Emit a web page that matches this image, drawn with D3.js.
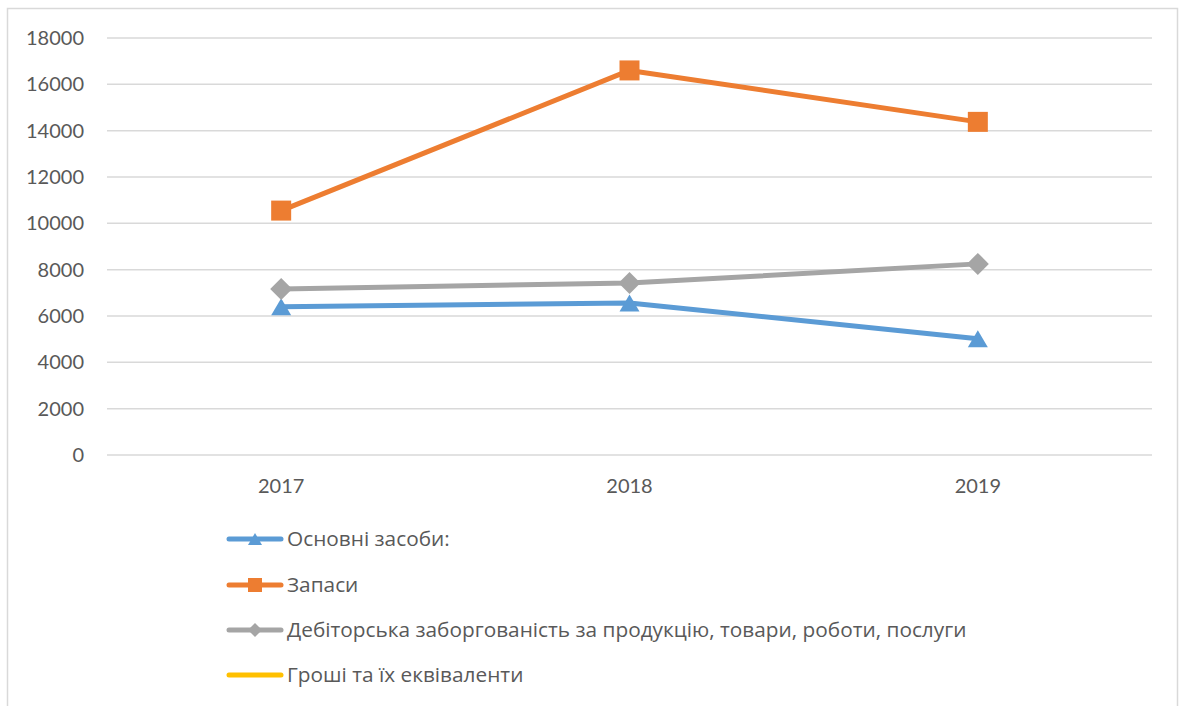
<!DOCTYPE html>
<html>
<head>
<meta charset="utf-8">
<script src="https://cdn.jsdelivr.net/npm/d3@7"></script>
<style>
  body { margin: 0; background: #fff; }
  text { font-family: Lato, "Open Sans", sans-serif; fill: #595959; }
  .legend text { font-family: "Open Sans", sans-serif; }
</style>
</head>
<body>
<svg id="chart" width="1185" height="706"></svg>
<script>
// data
const years = ["2017", "2018", "2019"]
const fixedAssets = [6400, 6560, 5020]
const stocks = [10550, 16600, 14380]
const receivables = [7170, 7420, 8250]
const cash = [null, null, null]
const yTicks = [0, 2000, 4000, 6000, 8000, 10000, 12000, 14000, 16000, 18000]

const seriesNames = [
    "Основні засоби:",
    "Запаси",
    "Дебіторська заборгованість за продукцію, товари, роботи, послуги",
    "Гроші та їх еквіваленти"
]
const seriesColors = ["#5B9BD5", "#ED7D31", "#A5A5A5", "#FFC000"]
const seriesMarkers = ["triangle", "square", "diamond", null]
const seriesValues = [fixedAssets, stocks, receivables, cash]

const svg = d3.select("#chart")

// outer border of the chart
svg.append("rect")
    .attr("x", 7.5).attr("y", 8.5)
    .attr("width", 1170).attr("height", 720)
    .attr("fill", "none")
    .attr("stroke", "#D9D9D9")
    .attr("stroke-width", 1.5)

const x = d3.scaleBand().domain(years).range([107, 1152])
const y = d3.scaleLinear().domain([0, 18000]).range([455, 38])

// grid
svg.append("g")
    .selectAll("line")
    .data(yTicks)
    .join("line")
    .attr("x1", 107).attr("x2", 1152)
    .attr("y1", d => y(d)).attr("y2", d => y(d))
    .attr("stroke", "#D9D9D9")
    .attr("stroke-width", 1.5)

// y labels
svg.append("g")
    .selectAll("text")
    .data(yTicks)
    .join("text")
    .attr("x", 84)
    .attr("y", d => y(d))
    .attr("dy", "0.35em")
    .attr("text-anchor", "end")
    .attr("font-size", 20)
    .text(d => d)

// x labels
svg.append("g")
    .selectAll("text")
    .data(years)
    .join("text")
    .attr("x", d => x(d) + x.bandwidth() / 2)
    .attr("y", 493)
    .attr("text-anchor", "middle")
    .attr("font-size", 20)
    .text(d => d)

function markerPath(kind, s) {
    if (kind == "square") return d3.symbol(d3.symbolSquare, s * s)()
    if (kind == "diamond") {
        let h = s / 2
        return `M0,${-h}L${h},0L0,${h}L${-h},0Z`
    }
    if (kind == "triangle") {
        let h = s / 2
        return `M0,${-h * 0.85}L${h},${h * 0.85}L${-h},${h * 0.85}Z`
    }
    return null
}

const line = d3.line()
    .defined(d => d.v != null)
    .x(d => x(d.year) + x.bandwidth() / 2)
    .y(d => y(d.v))

seriesValues.forEach((vals, i) => {
    let pts = years.map((yr, j) => ({ year: yr, v: vals[j] }))
    let g = svg.append("g").attr("class", "series-" + i)
    g.append("path")
        .datum(pts)
        .attr("d", line)
        .attr("fill", "none")
        .attr("stroke", seriesColors[i])
        .attr("stroke-width", 5)
        .attr("stroke-linejoin", "round")
    if (seriesMarkers[i]) {
        let size = seriesMarkers[i] == "diamond" ? 22 : 20
        g.selectAll("path.mark")
            .data(pts.filter(d => d.v != null))
            .join("path")
            .attr("class", "mark")
            .attr("transform", d => `translate(${x(d.year) + x.bandwidth() / 2},${y(d.v)})`)
            .attr("d", markerPath(seriesMarkers[i], size))
            .attr("fill", seriesColors[i])
    }
})

// legend
const legendRows = [539, 585, 630, 675]
const legend = svg.append("g").attr("class", "legend")
seriesNames.forEach((name, i) => {
    let ly = legendRows[i]
    legend.append("line")
        .attr("x1", 229).attr("x2", 281)
        .attr("y1", ly).attr("y2", ly)
        .attr("stroke", seriesColors[i])
        .attr("stroke-width", 5)
        .attr("stroke-linecap", "round")
    if (seriesMarkers[i]) {
        legend.append("path")
            .attr("transform", `translate(255,${ly})`)
            .attr("d", markerPath(seriesMarkers[i], 14))
            .attr("fill", seriesColors[i])
    }
    legend.append("text")
        .attr("x", 287)
        .attr("y", ly)
        .attr("dy", "0.35em")
        .attr("font-size", 20.8)
        .text(name)
})
</script>
</body>
</html>
